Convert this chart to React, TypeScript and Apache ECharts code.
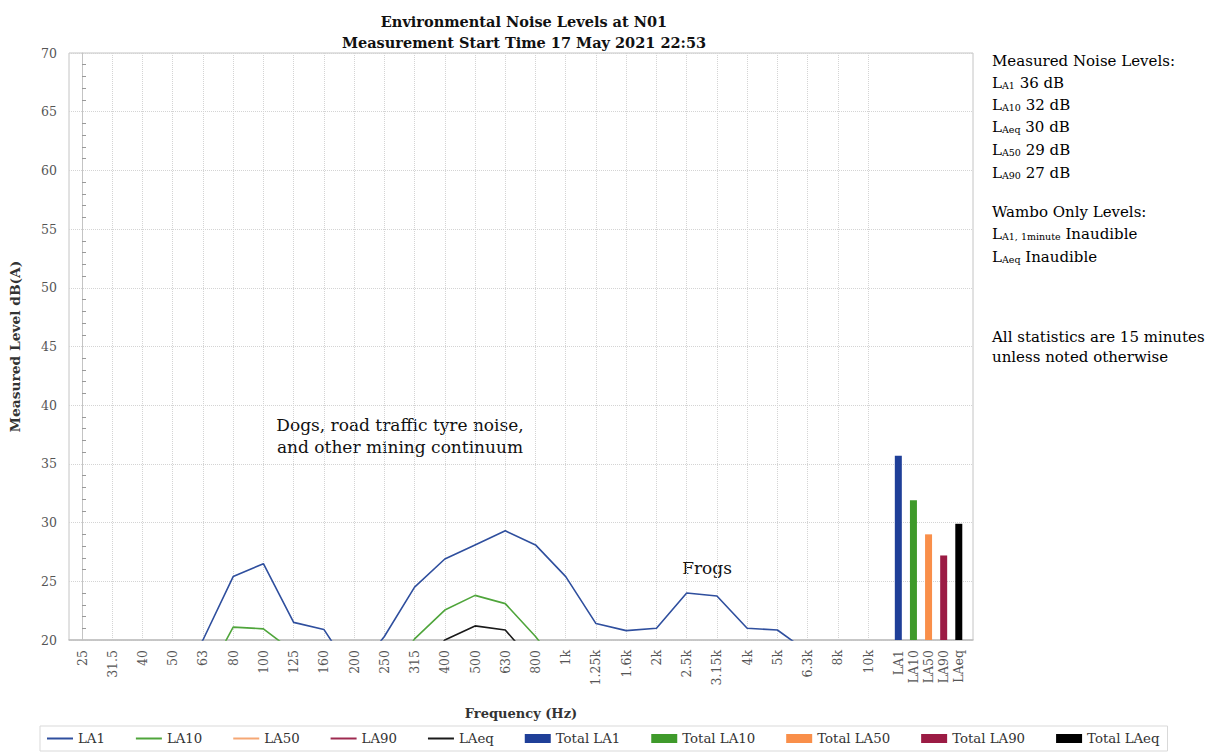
import React, { useEffect, useRef } from 'react';
import * as echarts from 'echarts';

const freqLabels = ['25', '31.5', '40', '50', '63', '80', '100', '125', '160', '200', '250', '315', '400', '500', '630', '800', '1k', '1.25k', '1.6k', '2k', '2.5k', '3.15k', '4k', '5k', '6.3k', '8k', '10k'];
const totalLabels = ['LA1', 'LA10', 'LA50', 'LA90', 'LAeq'];

// spectral values (dB(A)); values below 20 fall outside the visible axis range
const la1 = [12, 13, 14, 16, 20.0, 25.4, 26.5, 21.5, 20.9, 17.0, 20.3, 24.5, 26.9, 28.1, 29.3, 28.1, 25.4, 21.4, 20.8, 21.0, 24.0, 23.75, 21.0, 20.85, 19.0, 17, 15];
const la10 = [10, 11, 12, 13, 16.3, 21.1, 20.95, 19.0, 17, 15, 16, 20.1, 22.55, 23.8, 23.1, 20.3, 17, 16, 15, 15, 17, 17, 15, 14, 13, 12, 11];
const la50 = [7, 8, 9, 10, 12, 15, 15, 13, 12, 11, 12, 15, 17.5, 18.8, 18.5, 16, 13, 12, 11, 11, 13, 13, 11, 10, 9, 8, 7];
const la90 = [5, 6, 7, 8, 10, 13, 13, 11, 10, 9, 10, 13, 15.5, 16.5, 16.2, 14, 11, 10, 9, 9, 11, 11, 9, 8, 7, 6, 5];
const laeq = [8, 9, 10, 11, 14, 17, 17, 15, 14, 13, 14, 17, 20.0, 21.2, 20.85, 17.9, 15, 14, 13, 13, 15, 15, 13, 12, 11, 10, 9];

const totalValues = [35.7, 31.9, 29.0, 27.2, 29.9];

const lineNames = ['LA1', 'LA10', 'LA50', 'LA90', 'LAeq'];
const lineColors = ['#2f4f9e', '#4fa53b', '#f5a774', '#9e2a50', '#1a1a1a'];
const barNames = ['Total LA1', 'Total LA10', 'Total LA50', 'Total LA90', 'Total LAeq'];
const barColors = ['#1f3f98', '#3f9a2b', '#f98f4a', '#9b1b44', '#000000'];

const FONT = 'DejaVu Serif';

export default function App() {
  const ref = useRef<HTMLDivElement>(null);
  useEffect(() => {
    const chart = echarts.init(ref.current!, null, { renderer: 'svg' });
    const nF = freqLabels.length;
    const freqPos = freqLabels.map((_, i) => i);
    const totalPos = totalLabels.map((_, i) => nF + i * 0.5);
    const labelFor = (v: number) => {
      const k = Math.round(v * 2);
      if (k % 2 === 0 && k / 2 < nF) return freqLabels[k / 2];
      const j = k - nF * 2;
      if (j >= 0 && j < totalLabels.length) return totalLabels[j];
      return '';
    };
    const lineData = [la1, la10, la50, la90, laeq];

    const series: any[] = [];
    lineData.forEach((arr, si) => {
      series.push({
        type: 'line',
        name: lineNames[si],
        data: arr.map((v, i) => [freqPos[i], v]),
        symbol: 'none',
        clip: true,
        lineStyle: { color: lineColors[si], width: 1.6 },
        itemStyle: { color: lineColors[si] },
        z: 3,
      });
    });
    totalValues.forEach((v, i) => {
      series.push({
        type: 'bar',
        name: barNames[i],
        data: [[totalPos[i], v]],
        barWidth: 7,
        barGap: '-100%',
        itemStyle: { color: barColors[i] },
        z: 2,
      });
    });

    const sub = (s: string) => `{s|${s}}`;
    const rich = {
      n: { fontFamily: FONT, fontSize: 15, color: '#222' },
      s: { fontFamily: FONT, fontSize: 9.5, color: '#222', verticalAlign: 'bottom', lineHeight: 12 },
    };
    const rightLines: [string, number][] = [
      ['{n|Measured Noise Levels:}', 61],
      [`{n|L}${sub('A1')}{n| 36 dB}`, 83],
      [`{n|L}${sub('A10')}{n| 32 dB}`, 105],
      [`{n|L}${sub('Aeq')}{n| 30 dB}`, 127],
      [`{n|L}${sub('A50')}{n| 29 dB}`, 150],
      [`{n|L}${sub('A90')}{n| 27 dB}`, 173],
      ['{n|Wambo Only Levels:}', 212],
      [`{n|L}${sub('A1, 1minute')}{n| Inaudible}`, 234],
      [`{n|L}${sub('Aeq')}{n| Inaudible}`, 257],
      ['{n|All statistics are 15 minutes}', 337],
      ['{n|unless noted otherwise}', 357],
    ];

    const graphics: any[] = rightLines.map(([t, y]) => ({
      type: 'text',
      x: 992,
      y,
      style: { text: t, rich, verticalAlign: 'middle' },
    }));
    graphics.push({
      type: 'text',
      x: 400,
      y: 436,
      style: {
        text: 'Dogs, road traffic tyre noise,\nand other mining continuum',
        font: `17px "${FONT}"`,
        fill: '#111',
        align: 'center',
        verticalAlign: 'middle',
        lineHeight: 22,
      },
    });
    graphics.push({
      type: 'text',
      x: 707,
      y: 568,
      style: { text: 'Frogs', font: `17px "${FONT}"`, fill: '#111', align: 'center', verticalAlign: 'middle' },
    });

    const lineIcon = 'path://M0,0H26V2H0Z';

    const option: any = {
      animation: false,
      backgroundColor: '#fff',
      textStyle: { fontFamily: FONT },
      title: {
        text: 'Environmental Noise Levels at N01\nMeasurement Start Time 17 May 2021 22:53',
        left: 519,
        top: 6,
        textAlign: 'center',
        textStyle: { fontFamily: FONT, fontSize: 14.5, fontWeight: 'bold', color: '#111', lineHeight: 21 },
      },
      grid: {
        left: 67,
        right: 242,
        top: 53,
        bottom: 114,
        show: true,
        borderColor: '#c4c4c4',
        borderWidth: 1,
        backgroundColor: 'transparent',
      },
      legend: {
        left: 40,
        top: 726,
        itemGap: 31,
        itemWidth: 26,
        itemHeight: 9,
        symbolKeepAspect: true,
        padding: [6, 8, 6, 7],
        borderColor: '#d9d9d9',
        borderWidth: 1,
        textStyle: { fontFamily: FONT, fontSize: 13.3, color: '#333' },
        data: [
          ...lineNames.map((n) => ({ name: n, icon: lineIcon })),
          ...barNames.map((n) => ({ name: n, icon: 'rect' })),
        ],
      },
      xAxis: {
        type: 'value',
        min: -0.43,
        max: 29.47,
        name: 'Frequency (Hz)',
        nameLocation: 'middle',
        nameGap: 67,
        nameTextStyle: { fontFamily: FONT, fontSize: 13, fontWeight: 'bold', color: '#333' },
        axisLine: { show: true, lineStyle: { color: '#bfbfbf', width: 1.5 } },
        axisTick: { show: false, customValues: freqPos },
        axisLabel: {
          customValues: [...freqPos, ...totalPos],
          rotate: 90,
          margin: 10,
          fontFamily: FONT,
          fontSize: 12.5,
          color: '#555',
          formatter: (v: number) => labelFor(v),
        },
        splitLine: { show: true, lineStyle: { color: '#d4d4d4', type: 'dotted', width: 1 } },
      },
      yAxis: {
        type: 'value',
        min: 20,
        max: 70,
        interval: 5,
        name: 'Measured Level dB(A)',
        nameLocation: 'middle',
        nameGap: 47,
        nameTextStyle: { fontFamily: FONT, fontSize: 13.8, fontWeight: 'bold', color: '#333' },
        axisLine: { show: true, lineStyle: { color: '#c4c4c4' } },
        axisTick: { show: false, inside: true },
        minorTick: { show: true, splitNumber: 5, length: 4, lineStyle: { color: '#999' } },
        axisLabel: { fontFamily: FONT, fontSize: 12.5, color: '#555', margin: 12 },
        splitLine: { show: true, lineStyle: { color: '#d4d4d4', type: 'dotted', width: 1 } },
      },
      series,
      graphic: graphics,
    };
    chart.setOption(option);
    return () => chart.dispose();
  }, []);
  return <div ref={ref} style={{ position: 'absolute', left: 0, top: 0, width: 1215, height: 754 }} />;
}
